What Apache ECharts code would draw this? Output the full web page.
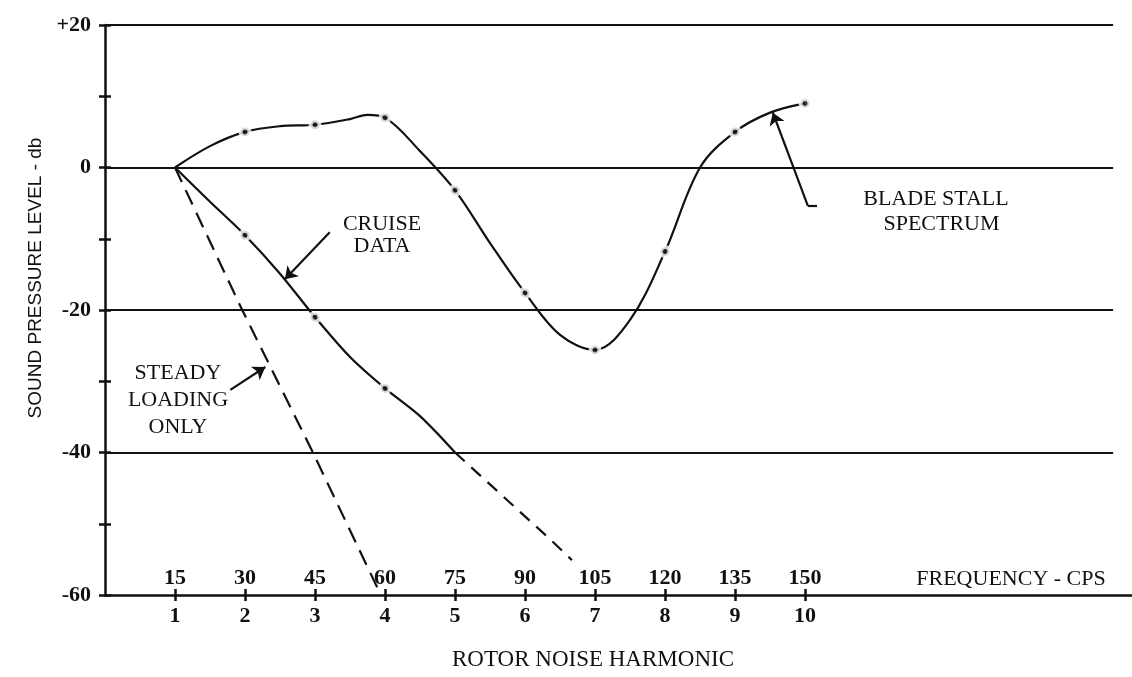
<!DOCTYPE html>
<html>
<head>
<meta charset="utf-8">
<script src="https://cdn.jsdelivr.net/npm/echarts@6/dist/echarts.min.js"></script>
<style>
html, body { margin: 0; padding: 0; background: #fff; }
#chart { width: 1132px; height: 677px; }
</style>
</head>
<body>
<div id="chart"></div>
<script>
// axis labels
const harmonics = [1, 2, 3, 4, 5, 6, 7, 8, 9, 10]
const frequencies = [15, 30, 45, 60, 75, 90, 105, 120, 135, 150]
const levelLines = [20, 0, -20, -40]

// blade stall spectrum
const bladeX = [1, 1.5, 2, 2.5, 3, 3.5, 3.75, 4, 4.5, 5, 5.5, 6, 6.5, 7, 7.5, 8, 8.5, 9, 9.5, 10]
const bladeY = [0, 3.0, 5.0, 5.8, 6.0, 6.8, 7.4, 7.0, 2.3, -3.2, -10.6, -17.6, -23.5, -25.6, -21.4, -11.8, 0, 5.0, 7.7, 9.0]

// cruise data (measured part, then extrapolated dashed part)
const cruiseX = [1, 1.5, 2, 2.5, 3, 3.5, 4, 4.5, 5]
const cruiseY = [0, -4.8, -9.5, -14.9, -21, -26.6, -31, -34.9, -40]
const cruiseExtX = [5, 6.36, 6.67]
const cruiseExtY = [-40, -52.2, -55.1]

// steady loading only
const steadyX = [1, 1.96, 2.97, 3.94]
const steadyY = [0, -20, -40, -60]

const pairs = (xs, ys) => xs.map((x, i) => [x, ys[i]])
const dotsAt = (xs, ys, hs) => hs.map(h => [h, ys[xs.indexOf(h)]])

const serif = 'Liberation Serif'
const ink = '#111'

const chart = echarts.init(document.getElementById('chart'), null, { renderer: 'canvas' })

const ringDot = {
  type: 'scatter',
  symbol: 'circle',
  symbolSize: 9,
  itemStyle: { color: ink, borderColor: '#fff', borderWidth: 4 },
  z: 3,
  silent: true
}

const arrowLine = (from, to, withHead) => [
  { coord: from, symbol: 'none' },
  { coord: to, symbol: withHead ? 'arrow' : 'none' }
]

const option = {
  backgroundColor: '#fff',
  animation: false,
  grid: { left: 105, right: 0, top: 25, bottom: 82 },
  xAxis: [
    {
      type: 'value', min: 0, max: 14.67, position: 'bottom',
      axisLine: { show: true, onZero: false, lineStyle: { color: ink, width: 2.5 } },
      axisTick: { show: true, customValues: harmonics, length: 6, lineStyle: { color: ink, width: 2.5 } },
      axisLabel: {
        customValues: harmonics, color: ink, margin: 10,
        fontFamily: serif, fontWeight: 'bold', fontSize: 22
      },
      splitLine: { show: false }
    },
    {
      type: 'value', min: 0, max: 14.67, position: 'bottom',
      axisLine: { show: false, onZero: false },
      axisTick: { show: true, inside: true, customValues: harmonics, length: 6, lineStyle: { color: ink, width: 2.5 } },
      axisLabel: {
        inside: true, customValues: harmonics, color: ink, margin: 6,
        fontFamily: serif, fontWeight: 'bold', fontSize: 22,
        formatter: v => String(frequencies[harmonics.indexOf(Math.round(v))])
      },
      splitLine: { show: false }
    }
  ],
  yAxis: [
    {
      type: 'value', min: -60, max: 20, interval: 20,
      axisLine: { show: true, onZero: false, lineStyle: { color: ink, width: 2.5 } },
      axisTick: { show: true, length: 6, lineStyle: { color: ink, width: 2.5 } },
      minorTick: { show: true, splitNumber: 2, length: 6, lineStyle: { color: ink, width: 2.5 } },
      axisLabel: {
        color: ink, margin: 14, fontFamily: serif, fontWeight: 'bold', fontSize: 22,
        formatter: v => (v > 0 ? '+' + v : String(v))
      },
      splitLine: { show: false }
    },
    {
      type: 'value', min: -60, max: 20, interval: 20, position: 'left',
      axisLine: { show: false, onZero: false },
      axisTick: { show: true, inside: true, length: 6, lineStyle: { color: ink, width: 2.5 } },
      minorTick: { show: true, splitNumber: 2, length: 6, lineStyle: { color: ink, width: 2.5 } },
      axisLabel: { show: false },
      splitLine: { show: false }
    }
  ],
  series: [
    {
      // full-width level lines
      type: 'line', data: [], z: 5, silent: true,
      markLine: {
        silent: true, symbol: 'none', animation: false,
        label: { show: false },
        lineStyle: { color: ink, width: 2, type: 'solid' },
        data: levelLines.map(v => [{ coord: [0, v] }, { coord: [14.4, v] }])
      }
    },
    {
      name: 'Blade stall spectrum', type: 'line', smooth: 0.35, showSymbol: false, z: 2,
      data: pairs(bladeX, bladeY),
      lineStyle: { color: ink, width: 2.2 }
    },
    Object.assign({ name: 'Blade stall dots', data: dotsAt(bladeX, bladeY, harmonics.slice(1)) }, ringDot),
    {
      name: 'Cruise data', type: 'line', smooth: 0.3, showSymbol: false, z: 2,
      data: pairs(cruiseX, cruiseY),
      lineStyle: { color: ink, width: 2.2 }
    },
    Object.assign({ name: 'Cruise dots', data: dotsAt(cruiseX, cruiseY, [2, 3, 4]) }, ringDot),
    {
      name: 'Cruise extrapolated', type: 'line', showSymbol: false, z: 2,
      data: pairs(cruiseExtX, cruiseExtY),
      lineStyle: { color: ink, width: 2.2, type: [13, 9] }
    },
    {
      name: 'Steady loading only', type: 'line', showSymbol: false, z: 2,
      data: pairs(steadyX, steadyY),
      lineStyle: { color: ink, width: 2.2, type: [16, 9] }
    },
    {
      // annotation arrows
      type: 'line', data: [], z: 6, silent: true,
      markLine: {
        silent: true, animation: false, symbolSize: 12,
        label: { show: false },
        lineStyle: { color: ink, width: 2.2, type: 'solid' },
        data: [
          arrowLine([3.21, -9.1], [2.57, -15.7], true),
          arrowLine([1.79, -31.2], [2.29, -28.0], true),
          arrowLine([10.04, -5.4], [9.54, 7.7], true),
          arrowLine([10.17, -5.4], [10.04, -5.4], false)
        ]
      }
    }
  ],
  graphic: [
    {
      type: 'text', x: 36, y: 278, rotation: Math.PI / 2,
      style: {
        text: 'SOUND PRESSURE LEVEL - db', fill: ink,
        font: '19px "Liberation Sans"', align: 'center', verticalAlign: 'middle'
      }
    },
    {
      type: 'text', x: 593, y: 660,
      style: { text: 'ROTOR NOISE HARMONIC', fill: ink, font: '23px "Liberation Serif"', align: 'center', verticalAlign: 'middle' }
    },
    {
      type: 'text', x: 1011, y: 579,
      style: { text: 'FREQUENCY - CPS', fill: ink, font: '22px "Liberation Serif"', align: 'center', verticalAlign: 'middle' }
    },
    {
      type: 'text', x: 382, y: 235,
      style: { text: 'CRUISE\nDATA', fill: ink, font: '22px "Liberation Serif"', lineHeight: 22, align: 'center', verticalAlign: 'middle' }
    },
    {
      type: 'text', x: 178, y: 400,
      style: { text: 'STEADY\nLOADING\nONLY', fill: ink, font: '22px "Liberation Serif"', lineHeight: 27, align: 'center', verticalAlign: 'middle' }
    },
    {
      type: 'text', x: 936, y: 212,
      style: { text: 'BLADE STALL\n  SPECTRUM', fill: ink, font: '22px "Liberation Serif"', lineHeight: 25, align: 'center', verticalAlign: 'middle' }
    }
  ]
}

chart.setOption(option)
</script>
</body>
</html>
